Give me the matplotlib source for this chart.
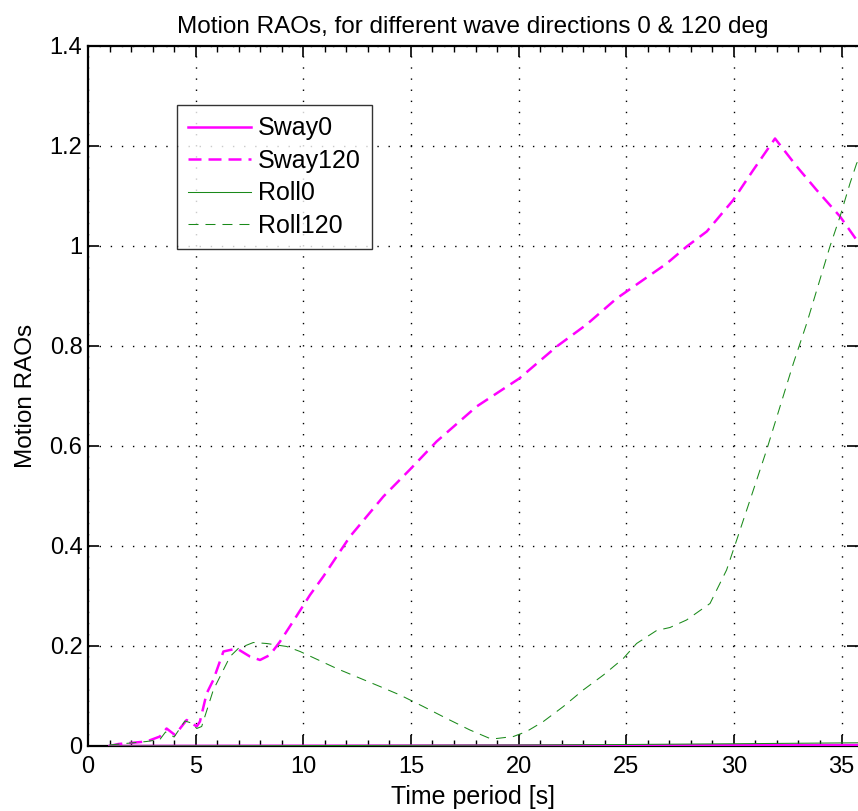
import matplotlib
matplotlib.use("Agg")
import matplotlib.pyplot as plt
from matplotlib.ticker import MultipleLocator
import numpy as np

plt.rcParams['font.family'] = ['Liberation Sans', 'DejaVu Sans']

# ---- data ----
sway120_x = [1.0, 1.41, 2.72, 3.34, 3.65, 4.04, 4.58, 5.05, 5.2, 5.51, 5.82, 6.29, 6.91,
             7.52, 7.99, 8.45, 8.92, 9.54, 10.31, 10.93, 12.17, 13.72, 15.0, 16.19,
             18.05, 20.03, 21.77, 23.16, 24.55, 26.88, 27.81, 28.74, 29.97, 30.9,
             31.91, 32.92, 33.84, 34.93, 35.7, 36.0]
sway120_y = [0.0, 0.004, 0.009, 0.019, 0.035, 0.022, 0.052, 0.039, 0.049, 0.105, 0.132,
             0.189, 0.195, 0.179, 0.172, 0.182, 0.209, 0.250, 0.302, 0.339, 0.419,
             0.499, 0.555, 0.609, 0.679, 0.735, 0.799, 0.843, 0.895, 0.965, 0.999,
             1.029, 1.092, 1.152, 1.215, 1.159, 1.112, 1.059, 1.012, 0.995]

roll120_x = [1.0, 2.72, 3.34, 3.6, 4.0, 4.5, 4.8, 5.05, 5.28, 5.82, 6.6, 6.98, 7.68, 8.3,
             9.23, 9.85, 11.55, 13.56, 14.49, 15.57, 16.66, 17.74, 18.67, 18.98,
             19.76, 20.37, 21.15, 22.08, 23.0, 23.94, 24.86, 25.48, 26.41, 27.03,
             27.8, 28.89, 29.66, 30.13, 30.75, 31.52, 32.0, 32.76, 33.38, 33.85,
             34.46, 34.93, 35.39, 35.7, 36.0]
roll120_y = [0.002, 0.009, 0.013, 0.028, 0.018, 0.05, 0.046, 0.035, 0.039, 0.112, 0.179,
             0.195, 0.207, 0.205, 0.199, 0.189, 0.155, 0.119, 0.102, 0.079, 0.055,
             0.032, 0.015, 0.015, 0.019, 0.029, 0.049, 0.079, 0.112, 0.142, 0.175,
             0.205, 0.231, 0.237, 0.252, 0.285, 0.352, 0.412, 0.492, 0.592, 0.659,
             0.765, 0.845, 0.912, 0.999, 1.059, 1.125, 1.165, 1.19]

sway0_x = [1.0, 10.0, 20.0, 30.0, 36.0]
sway0_y = [0.0, 0.0005, 0.001, 0.0015, 0.002]

roll0_x = [1.0, 10.0, 20.0, 25.0, 30.0, 33.0, 36.0]
roll0_y = [0.0, 0.0008, 0.002, 0.003, 0.0045, 0.0055, 0.0065]

labels = ['Sway0', 'Sway120', 'Roll0', 'Roll120']
title = 'Motion RAOs, for different wave directions 0 & 120 deg'
xlabel = 'Time period [s]'
ylabel = 'Motion RAOs'

# ---- figure ----
fig = plt.figure(figsize=(8.58, 8.11), dpi=100)
ax = fig.add_axes([88/858, 65/811, 770/858, 700/811])

mag = '#ff00ff'
grn = '#1a8a1a'
ax.plot(sway0_x, sway0_y, color=mag, lw=1.8, label=labels[0], zorder=3)
ax.plot(sway120_x, sway120_y, color=mag, lw=1.8, ls=(0, (5.2, 2.8)), label=labels[1], zorder=3)
ax.plot(roll0_x, roll0_y, color=grn, lw=0.75, label=labels[2], zorder=3)
ax.plot(roll120_x, roll120_y, color=grn, lw=0.75, ls=(0, (9.6, 6.7)), label=labels[3], zorder=3)

ax.set_xlim(0, 770/21.53)
ax.set_ylim(0, 1.4)
ax.xaxis.set_major_locator(MultipleLocator(5))
ax.xaxis.set_minor_locator(MultipleLocator(1))
ax.set_yticks(np.arange(0, 1.41, 0.2))
ax.set_yticklabels(['0', '0.2', '0.4', '0.6', '0.8', '1', '1.2', '1.4'])

ax.grid(True, which='major', color='black', ls=(0, (1, 7)), lw=1.0)
ax.tick_params(which='both', direction='in', top=True, right=True, labelsize=17, colors='black')
ax.tick_params(which='major', length=8, width=1.2)
ax.tick_params(axis='x', which='major', pad=7)
ax.tick_params(axis='y', which='major', pad=4)
ax.tick_params(which='minor', length=4, width=1.0)
for s in ax.spines.values():
    s.set_linewidth(1.6)
ax.spines['right'].set_visible(False)

ax.set_title(title, fontsize=17.5, pad=9)
ax.set_xlabel(xlabel, fontsize=18, labelpad=5)
ax.set_ylabel(ylabel, fontsize=17.5, labelpad=9)

leg = ax.legend(loc='upper left', bbox_to_anchor=((177-88)/770, (746-105)/700),
                borderaxespad=0, fontsize=18, frameon=True, fancybox=False,
                edgecolor='black', handlelength=2.5, handletextpad=0.3,
                labelspacing=0.34, borderpad=0.45)
leg.get_frame().set_linewidth(1.0)

fig.savefig('out.png', dpi=100)
